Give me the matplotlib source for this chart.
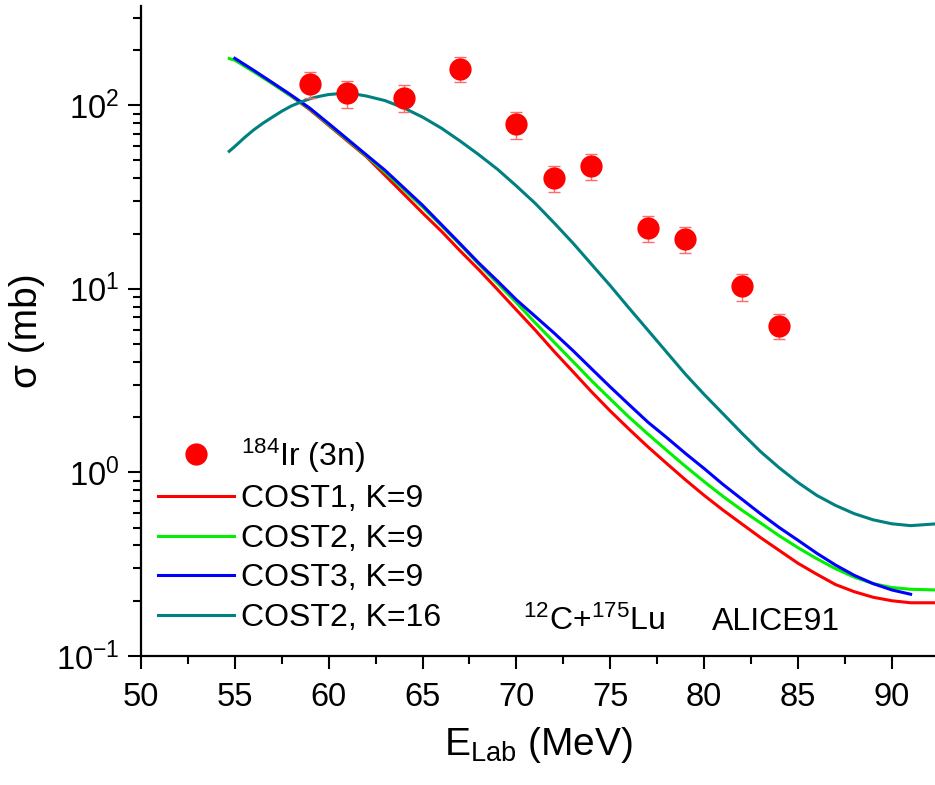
import matplotlib
matplotlib.use('Agg')
import matplotlib.pyplot as plt
from matplotlib.ticker import MultipleLocator, LogLocator

plt.rcParams['font.family'] = ['Liberation Sans', 'DejaVu Sans']
plt.rcParams['mathtext.fontset'] = 'custom'
plt.rcParams['mathtext.rm'] = 'Liberation Sans'
plt.rcParams['mathtext.it'] = 'Liberation Sans:italic'
plt.rcParams['mathtext.bf'] = 'Liberation Sans:bold'

# experimental 184Ir (3n)
exp_e = [59, 61, 64, 67, 70, 72, 74, 77, 79, 82, 84]
exp_sig = [130, 116, 110, 158, 78.5, 40.2, 46.5, 21.5, 18.6, 10.3, 6.3]
exp_err = [21, 19, 18, 25, 13, 6.5, 7.5, 3.5, 3.0, 1.7, 1.0]

# ALICE91 curves
e_red = [55, 56, 57, 58, 59, 60, 61, 62, 63, 64, 65, 66, 67, 68, 69, 70, 71, 72, 73,
         74, 75, 76, 77, 78, 79, 80, 81, 82, 83, 84, 85, 86, 87, 88, 89, 90, 91, 92.3]
sig_red = [177.8, 153.5, 131.8, 112.2, 94.4, 77.6, 63.8, 52.5, 41.5, 32.8, 25.9, 20.6,
           16.1, 12.7, 9.89, 7.67, 5.96, 4.57, 3.55, 2.75, 2.16, 1.72, 1.38, 1.12, 0.912,
           0.750, 0.624, 0.525, 0.442, 0.376, 0.320, 0.279, 0.245, 0.224, 0.209, 0.200,
           0.195, 0.195]

e_green = [54.7, 55, 56, 57, 58, 59, 60, 61, 62, 63, 64, 65, 66, 67, 68, 69, 70, 71, 72,
           73, 74, 75, 76, 77, 78, 79, 80, 81, 82, 83, 84, 85, 86, 87, 88, 89, 90, 91, 92.3]
sig_green = [179.5, 175.8, 152.1, 130.9, 112.2, 95.5, 78.5, 64.6, 53.1, 43.2, 34.7, 27.9,
             22.1, 17.4, 13.6, 10.7, 8.41, 6.53, 5.13, 4.03, 3.16, 2.51, 2.0, 1.62, 1.32,
             1.08, 0.891, 0.741, 0.624, 0.531, 0.452, 0.389, 0.339, 0.299, 0.269, 0.248,
             0.236, 0.231, 0.229]

e_blue = [55, 56, 57, 58, 59, 60, 61, 62, 63, 64, 65, 66, 67, 68, 69, 70, 71, 72, 73,
          74, 75, 76, 77, 78, 79, 80, 81, 82, 83, 84, 85, 86, 87, 88, 89, 90, 91]
sig_blue = [179.9, 154.9, 132.7, 113.5, 96.2, 79.4, 65.3, 53.7, 44.2, 35.5, 28.5, 22.4,
            17.6, 13.8, 11.0, 8.71, 7.08, 5.75, 4.62, 3.67, 2.92, 2.34, 1.88, 1.55, 1.27,
            1.05, 0.861, 0.716, 0.596, 0.501, 0.427, 0.363, 0.313, 0.275, 0.248, 0.229,
            0.217]

e_teal = [54.7, 55, 55.5, 56, 56.5, 57, 57.5, 58, 58.5, 59, 59.5, 60, 60.5, 61, 61.5, 62,
          63, 64, 65, 66, 67, 68, 69, 70, 71, 72, 73, 74, 75, 76, 77, 78, 79, 80, 81, 82,
          83, 84, 85, 86, 87, 88, 89, 90, 91, 92.3]
sig_teal = [56.1, 59.6, 66.4, 73.3, 79.8, 86.1, 92.7, 98.9, 103.9, 108.4, 111.7, 114.3,
            115.4, 115.6, 114.5, 112.2, 105.9, 96.6, 86.1, 75.0, 63.8, 53.7, 44.7, 36.3,
            29.2, 22.9, 17.8, 13.6, 10.4, 7.85, 5.96, 4.52, 3.43, 2.66, 2.09, 1.64, 1.30,
            1.06, 0.881, 0.750, 0.661, 0.596, 0.552, 0.525, 0.513, 0.524]

fig = plt.figure(figsize=(9.35, 7.85), dpi=100)
ax = fig.add_axes([0.1508, 0.1643, 0.8492, 0.8281])

ax.errorbar(exp_e, exp_sig, yerr=exp_err, fmt='none', ecolor='#ff6a6a',
            elinewidth=1.0, capsize=4.5, capthick=1.0, zorder=3)
ax.plot(exp_e, exp_sig, 'o', color='#ff0000', markersize=16, markeredgewidth=0,
        label=r'$^{184}$Ir (3n)', zorder=4)
ax.plot(e_red, sig_red, color='#ff0000', lw=2.2, label='COST1, K=9')
ax.plot(e_green, sig_green, color='#00f000', lw=2.2, label='COST2, K=9')
ax.plot(e_blue, sig_blue, color='#0000ff', lw=2.2, label='COST3, K=9')
ax.plot(e_teal, sig_teal, color='#008080', lw=2.2, label='COST2, K=16')

ax.set_yscale('log')
ax.set_xlim(50, 92.3)
ax.set_ylim(0.1, 347)
ax.xaxis.set_major_locator(MultipleLocator(5))
ax.xaxis.set_minor_locator(MultipleLocator(2.5))
ax.yaxis.set_major_locator(LogLocator(base=10))
ax.yaxis.set_minor_locator(LogLocator(base=10, subs=range(2, 10)))

for s in ['top', 'right']:
    ax.spines[s].set_visible(False)
for s in ['left', 'bottom']:
    ax.spines[s].set_linewidth(1.6)
ax.tick_params(which='major', direction='out', length=9.5, width=1.5,
               labelsize=23.5, pad=6)
ax.tick_params(which='minor', direction='out', length=6, width=1.5)
ax.tick_params(axis='x', which='major', pad=9)

ax.set_xlabel(r'E$_{\mathrm{Lab}}$ (MeV)', fontsize=28, labelpad=9)
ax.set_ylabel('σ (mb)', fontsize=28, labelpad=8)

ax.text(70.35, 0.139, r'$^{12}$C+$^{175}$Lu', fontsize=23)
ax.text(80.42, 0.139, 'ALICE91', fontsize=23)

ax.legend(loc='lower left', bbox_to_anchor=(-0.003, 0.006), frameon=False, fontsize=23,
          handlelength=2.4, handletextpad=0.2, labelspacing=0.3, borderaxespad=0.2)

fig.savefig('out.png', dpi=100)
